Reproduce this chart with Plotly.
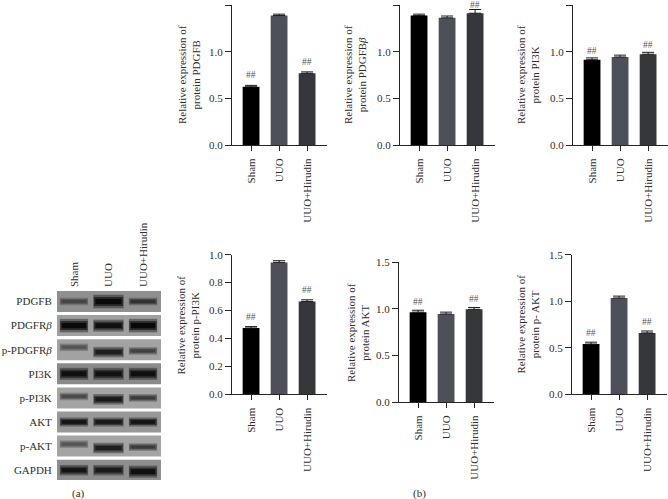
import plotly.graph_objects as go

W, H = 668, 499
FONT = "Liberation Serif"
TXT = "#2e2e2e"
LINE = "#262626"

groups = ["Sham", "UUO", "UUO+Hirudin"]
bar_colors = ["#000000", "#4d5059", "#36373b"]

pdgfb = [0.625, 1.39, 0.77]
pdgfb_err = [0.015, 0.015, 0.015]
pdgfrb = [1.39, 1.365, 1.415]
pdgfrb_err = [0.015, 0.02, 0.04]
pi3k = [0.915, 0.945, 0.975]
pi3k_err = [0.02, 0.02, 0.02]
p_pi3k = [0.475, 0.945, 0.665]
p_pi3k_err = [0.01, 0.012, 0.012]
akt = [0.965, 0.945, 0.995]
akt_err = [0.02, 0.02, 0.02]
p_akt = [0.54, 1.035, 0.66]
p_akt_err = [0.02, 0.02, 0.02]

sig_pdgfb = ["##", "", "##"]
sig_pdgfrb = ["", "", "##"]
sig_pi3k = ["##", "", "##"]
sig_p_pi3k = ["##", "", "##"]
sig_akt = ["##", "", "##"]
sig_p_akt = ["##", "", "##"]

ticks_15 = [0.0, 0.5, 1.0, 1.5]
ticks_10 = [0.0, 0.2, 0.4, 0.6, 0.8, 1.0]

# blot: rows, background grey level, band vertical offset (rows), thickness (px), darkness grey level
blot_rows = ["PDGFB", "PDGFR<i>β</i>", "p-PDGFR<i>β</i>", "PI3K", "p-PI3K", "AKT", "p-AKT", "GAPDH"]
blot_bg = [143, 160, 162, 138, 164, 152, 164, 142]
band_offset = [[0, 0, 0], [0, 0, 0], [-0.1, 0.1, 0.05], [0, 0, 0], [-0.06, 0.06, 0], [0, 0, 0], [-0.08, 0.08, 0.04], [0, 0, 0.06]]
band_thick = [[5, 9, 5], [9, 8, 9], [5, 7, 5], [8, 8, 8], [5, 7, 5], [6, 6, 6], [5, 7, 5], [7, 7, 8]]
band_grey = [[70, 10, 50], [10, 15, 8], [85, 30, 65], [15, 18, 15], [75, 25, 60], [20, 25, 20], [85, 30, 60], [20, 25, 15]]
lane_half = [0.41, 0.44, 0.41]

panels = [
    dict(vals=pdgfb, err=pdgfb_err, sig=sig_pdgfb, gap=10, rng=1.5, ticks=ticks_15, ax=232, end=327, top=5.3, bot=145,
         title="Relative expression of<br>protein PDGFB", tx=189, ty=75),
    dict(vals=pdgfrb, err=pdgfrb_err, sig=sig_pdgfrb, gap=4.5, rng=1.5, ticks=ticks_15, ax=400, end=495, top=5.3, bot=145,
         title="Relative expression of<br>protein PDGFB<i>β</i>", tx=355, ty=75),
    dict(vals=pi3k, err=pi3k_err, sig=sig_pi3k, gap=7, rng=1.5, ticks=ticks_15, ax=573, end=668, top=5.3, bot=145,
         title="Relative expression of<br>protein PI3K", tx=528, ty=75),
    dict(vals=p_pi3k, err=p_pi3k_err, sig=sig_p_pi3k, gap=10, rng=1.0, ticks=ticks_10, ax=232, end=327, top=254.7, bot=394.3,
         title="Relative expression of<br>protein p-PI3K", tx=187.5, ty=325),
    dict(vals=akt, err=akt_err, sig=sig_akt, gap=8, rng=1.5, ticks=ticks_15, ax=399, end=494, top=262.3, bot=402,
         title="Relative expression of<br>protein AKT", tx=357.5, ty=332.5),
    dict(vals=p_akt, err=p_akt_err, sig=sig_p_akt, gap=9, rng=1.5, ticks=ticks_15, ax=572, end=667, top=254.7, bot=394.3,
         title="Relative expression of<br>protein p- AKT", tx=527.5, ty=324),
]

fig = go.Figure()
layout = {}
annotations = []


def px(x):
    return x / W


def py(y):
    return 1 - y / H


for i, p in enumerate(panels):
    n = "" if i == 0 else str(i + 1)
    xa, ya = "x" + n, "y" + n
    for j, g in enumerate(groups):
        fig.add_trace(go.Bar(
            x=[j], y=[p["vals"][j]], width=0.6, xaxis=xa, yaxis=ya,
            marker=dict(color=bar_colors[j], line=dict(width=0)), showlegend=False,
            error_y=dict(type="data", array=[p["err"][j]], arrayminus=[0], symmetric=False,
                         color="#1c1c1c", thickness=1, width=6),
            name=g,
        ))
        if p["sig"][j]:
            annotations.append(dict(x=j, y=p["vals"][j] + p["err"][j], xref=xa, yref=ya, text=p["sig"][j],
                                    showarrow=False, xanchor="center", yanchor="middle", yshift=p["gap"], borderpad=0,
                                    font=dict(family=FONT, size=9.5, color="#555555")))
    layout["xaxis" + n] = dict(
        domain=[px(p["ax"]), px(p["end"])], range=[-0.68, 2.71], anchor=ya, fixedrange=True, automargin=False,
        tickmode="array", tickvals=[0, 1, 2], ticktext=groups, tickangle=-90,
        ticks="outside", ticklen=5, tickwidth=1, tickcolor=LINE, showline=True, linecolor=LINE, linewidth=1,
        showgrid=False, zeroline=False, tickfont=dict(family=FONT, size=11, color=TXT), ticklabelstandoff=3,
    )
    layout["yaxis" + n] = dict(
        domain=[py(p["bot"]), py(p["top"])], range=[0, p["rng"]], anchor=xa, fixedrange=True, automargin=False,
        tickmode="array", tickvals=p["ticks"], ticktext=[f"{t:.1f}" for t in p["ticks"]],
        ticks="outside", ticklen=6, tickwidth=1, tickcolor=LINE, showline=True, linecolor=LINE, linewidth=1,
        showgrid=False, zeroline=False, tickfont=dict(family=FONT, size=11, color=TXT),
    )
    annotations.append(dict(x=px(p["tx"]), y=py(p["ty"]), xref="paper", yref="paper", text=p["title"],
                            textangle=-90, showarrow=False, xanchor="center", yanchor="middle",
                            font=dict(family=FONT, size=11, color=TXT)))

# western blot panel
bx, by = "x7", "y7"
rows = list(range(len(blot_rows)))
fig.add_trace(go.Bar(
    y=rows, x=[3.01] * len(rows), base=[-0.49] * len(rows), orientation="h", width=0.87,
    xaxis=bx, yaxis=by, marker=dict(color=[f"rgb({b},{b},{b})" for b in blot_bg], line=dict(width=0)),
    showlegend=False,
))
for r in rows:
    for l in range(3):
        yy = r + band_offset[r][l]
        th = band_thick[r][l]
        g = band_grey[r][l]
        hl = lane_half[l]
        for scale_len, scale_th, lift in [(1.0, 1.5, 0.6), (0.96, 1.0, 0.25), (0.86, 0.6, 0.0)]:
            v = int(g + (blot_bg[r] - g) * lift)
            fig.add_trace(go.Scatter(
                x=[l - hl * scale_len, l + hl * scale_len], y=[yy, yy], mode="lines", xaxis=bx, yaxis=by,
                line=dict(color=f"rgb({v},{v},{v})", width=th * scale_th), showlegend=False, hoverinfo="skip",
            ))

layout["xaxis7"] = dict(
    domain=[px(57), px(161)], range=[-0.49, 2.52], anchor="y7", side="top", fixedrange=True, automargin=False,
    tickmode="array", tickvals=[0, 1, 2], ticktext=groups, tickangle=-90, ticks="", showline=False,
    showgrid=False, zeroline=False, tickfont=dict(family=FONT, size=11, color=TXT), ticklabelstandoff=3,
)
layout["yaxis7"] = dict(
    domain=[py(480), py(291)], range=[7.407, -0.436], anchor="x7", fixedrange=True, automargin=False,
    tickmode="array", tickvals=rows, ticktext=blot_rows, ticks="outside", ticklen=2, tickcolor="rgba(0,0,0,0)",
    showline=False, showgrid=False, zeroline=False, tickfont=dict(family=FONT, size=11, color=TXT),
)

for label, x in [("(a)", 78), ("(b)", 419)]:
    annotations.append(dict(x=px(x), y=py(493), xref="paper", yref="paper", text=label, showarrow=False,
                            xanchor="center", yanchor="middle",
                            font=dict(family=FONT, size=11, color=TXT)))

fig.update_layout(
    width=W, height=H, margin=dict(l=0, r=0, t=0, b=0, autoexpand=False), paper_bgcolor="white", plot_bgcolor="white",
    barmode="overlay", showlegend=False, annotations=annotations, **layout,
)
fig.write_html("out.html", config=dict(displayModeBar=False),
               post_script="document.body.style.margin='0';")
